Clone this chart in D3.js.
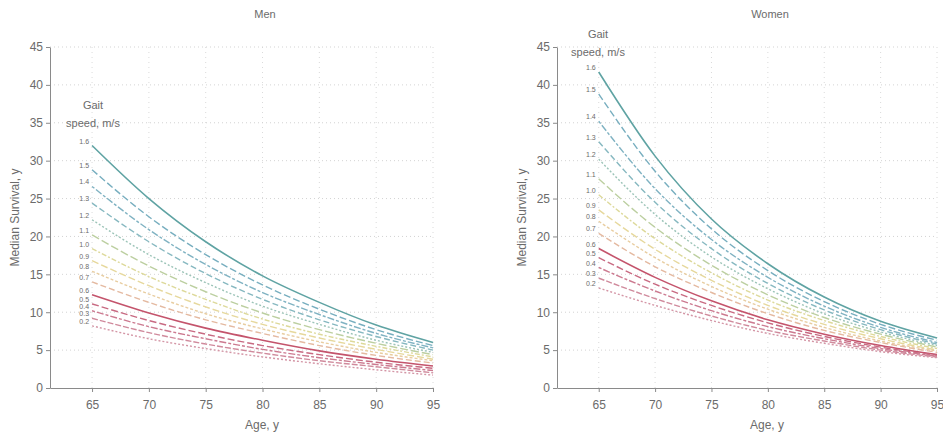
<!DOCTYPE html>
<html>
<head>
<meta charset="utf-8">
<script src="https://cdn.jsdelivr.net/npm/d3@7"></script>
<style>
  body { margin: 0; background: #fff; }
  svg text { font-family: "Liberation Sans Narrow", "Liberation Sans", Arial, sans-serif; fill: #6b6b6b; }
</style>
</head>
<body>
<div id="chart"></div>
<script>
const ages = [65, 70, 75, 80, 85, 90, 95];
const xTicks = [65, 70, 75, 80, 85, 90, 95];
const yTicks = [0, 5, 10, 15, 20, 25, 30, 35, 40, 45];

// Gait speed, m/s (one curve each)
const speeds = ['1.6', '1.5', '1.4', '1.3', '1.2', '1.1', '1.0', '0.9', '0.8', '0.7', '0.6', '0.5', '0.4', '0.3', '0.2'];

// Median survival, y  (rows follow speeds, columns follow ages)
const menSurvival = [
    [32.0, 25.0, 19.3, 14.8, 11.3, 8.3, 6.0],
    [28.8, 22.6, 17.6, 13.6, 10.4, 7.7, 5.6],
    [26.6, 20.9, 16.3, 12.6, 9.7, 7.2, 5.3],
    [24.4, 19.3, 15.1, 11.7, 9.0, 6.8, 5.0],
    [22.2, 17.6, 13.9, 10.8, 8.4, 6.3, 4.7],
    [20.2, 16.1, 12.7, 9.9, 7.7, 5.9, 4.4],
    [18.4, 14.7, 11.7, 9.1, 7.1, 5.5, 4.1],
    [16.8, 13.5, 10.7, 8.4, 6.6, 5.1, 3.8],
    [15.4, 12.4, 9.8, 7.8, 6.1, 4.7, 3.6],
    [14.0, 11.3, 9.0, 7.2, 5.6, 4.3, 3.3],
    [12.3, 9.9, 7.9, 6.3, 4.9, 3.8, 2.9],
    [11.1, 8.9, 7.1, 5.6, 4.4, 3.4, 2.6],
    [10.2, 8.1, 6.5, 5.1, 4.0, 3.1, 2.3],
    [9.2, 7.3, 5.8, 4.6, 3.6, 2.8, 2.0],
    [8.2, 6.5, 5.2, 4.1, 3.2, 2.4, 1.7]
];

const womenSurvival = [
    [41.7, 30.6, 22.3, 16.4, 12.0, 8.8, 6.6],
    [38.8, 28.6, 21.0, 15.5, 11.4, 8.4, 6.3],
    [35.2, 26.3, 19.6, 14.6, 10.8, 8.0, 6.0],
    [32.5, 24.5, 18.4, 13.8, 10.3, 7.7, 5.8],
    [30.2, 22.9, 17.3, 13.1, 9.8, 7.4, 5.6],
    [27.6, 21.2, 16.2, 12.3, 9.3, 7.1, 5.4],
    [25.5, 19.7, 15.2, 11.6, 8.9, 6.8, 5.2],
    [23.5, 18.3, 14.2, 10.9, 8.4, 6.5, 5.0],
    [22.0, 17.2, 13.4, 10.4, 8.0, 6.2, 4.9],
    [20.4, 16.0, 12.6, 9.8, 7.6, 6.0, 4.7],
    [18.4, 14.6, 11.5, 9.0, 7.1, 5.6, 4.4],
    [17.2, 13.7, 10.9, 8.6, 6.8, 5.4, 4.3],
    [15.9, 12.8, 10.2, 8.1, 6.5, 5.2, 4.2],
    [14.5, 11.8, 9.5, 7.6, 6.2, 5.0, 4.1],
    [13.2, 10.9, 8.9, 7.2, 5.9, 4.8, 4.0]
];

// Line styles per curve (teal -> yellow -> red)
const colors = ['#5fa3a3', '#77aebf', '#7fb2c2', '#86b8c0', '#9cc4b8', '#bccfa0', '#ddd99a',
                '#e6d89c', '#e8cda0', '#e4b9a0', '#c4546c', '#c86a82', '#cc7a90', '#d08a9c', '#d496a6'];
const dashes = [null, '7,3', '3,2,7,2', '6,3', '2,2', '8,3', '5,2,2,2', '7,3', '3,2',
                '6,3', null, '7,3', '3,2,7,2', '6,2', '2,2'];

const width = 943, height = 435;
const svg = d3.select('#chart').append('svg')
    .attr('width', width)
    .attr('height', height);

function drawPanel(opts) {
    const g = svg.append('g');
    const x = d3.scaleLinear().domain([61.3, 95]).range([opts.left, opts.right]);
    const y = d3.scaleLinear().domain([0, 45]).range([388, 47]);

    // Grid
    g.append('g').selectAll('line.hgrid')
        .data(yTicks.filter(d => d > 0))
        .enter().append('line')
        .attr('x1', opts.left).attr('x2', opts.right)
        .attr('y1', d => y(d)).attr('y2', d => y(d))
        .attr('stroke', '#c8c8c8').attr('stroke-width', 0.8)
        .attr('stroke-dasharray', '1,3');
    g.append('g').selectAll('line.vgrid')
        .data(xTicks)
        .enter().append('line')
        .attr('x1', d => x(d)).attr('x2', d => x(d))
        .attr('y1', y(0)).attr('y2', y(45))
        .attr('stroke', '#d0d0d0').attr('stroke-width', 0.8)
        .attr('stroke-dasharray', '1,4');

    // Axes
    const xAxis = g.append('g')
        .attr('transform', `translate(0,${y(0)})`)
        .call(d3.axisBottom(x).tickValues(xTicks).tickSize(4).tickPadding(8).tickSizeOuter(0));
    const yAxis = g.append('g')
        .attr('transform', `translate(${opts.left},0)`)
        .call(d3.axisLeft(y).tickValues(yTicks).tickSize(4).tickPadding(3).tickSizeOuter(0));
    [xAxis, yAxis].forEach(a => {
        a.select('.domain').attr('stroke', '#8a8a8a');
        a.selectAll('.tick line').attr('stroke', '#8a8a8a');
        a.selectAll('.tick text').style('font-size', '12px').attr('fill', '#6b6b6b');
    });

    // Curves
    const line = d3.line()
        .x((d, i) => x(ages[i]))
        .y(d => y(d))
        .curve(d3.curveMonotoneX);

    g.append('g').selectAll('path.curve')
        .data(opts.data)
        .enter().append('path')
        .attr('class', 'curve')
        .attr('fill', 'none')
        .attr('stroke', (d, i) => colors[i])
        .attr('stroke-width', (d, i) => dashes[i] ? 1.4 : 1.6)
        .attr('stroke-dasharray', (d, i) => dashes[i])
        .attr('d', line);

    // Curve labels
    g.append('g').selectAll('text.lab')
        .data(opts.data)
        .enter().append('text')
        .attr('x', x(ages[0]) - 3)
        .attr('y', d => y(d[0]) - 2)
        .attr('text-anchor', 'end')
        .style('font-size', '7px')
        .attr('fill', '#8a8a8a')
        .text((d, i) => speeds[i]);

    // Legend header
    g.append('text')
        .attr('x', opts.gaitX).attr('y', opts.gaitY)
        .attr('text-anchor', 'middle')
        .style('font-size', '11px')
        .text('Gait');
    g.append('text')
        .attr('x', opts.gaitX).attr('y', opts.gaitY + 18)
        .attr('text-anchor', 'middle')
        .style('font-size', '11px')
        .text('speed, m/s');

    // Titles
    g.append('text')
        .attr('x', opts.titleX).attr('y', 18)
        .attr('text-anchor', 'middle')
        .style('font-size', '11px')
        .text(opts.title);
    g.append('text')
        .attr('x', opts.titleX - 3).attr('y', 429)
        .attr('text-anchor', 'middle')
        .style('font-size', '12px')
        .text('Age, y');
    g.append('text')
        .attr('transform', `translate(${opts.left - 31},${y(22.5)}) rotate(-90)`)
        .attr('text-anchor', 'middle')
        .style('font-size', '12px')
        .text('Median Survival, y');
}

drawPanel({ title: 'Men', data: menSurvival, left: 50, right: 433, titleX: 265, gaitX: 93, gaitY: 109 });
drawPanel({ title: 'Women', data: womenSurvival, left: 557, right: 937, titleX: 770, gaitX: 598, gaitY: 38 });
</script>
</body>
</html>
